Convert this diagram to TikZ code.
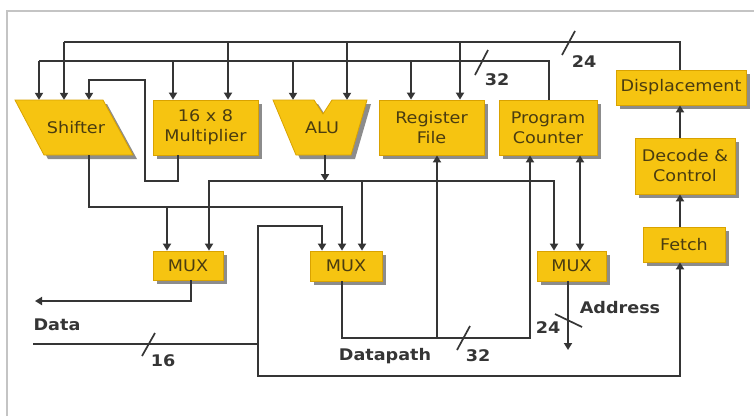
\documentclass[tikz,border=0pt]{standalone}
\usepackage{fontspec}
\setmainfont{DejaVu Sans}[FakeStretch=1.1]
\usetikzlibrary{arrows.meta,shadows}
\definecolor{boxfill}{HTML}{F6C411}
\definecolor{boxline}{HTML}{D9A200}
\definecolor{boxtext}{HTML}{4A3C10}
\definecolor{wirecol}{HTML}{353535}
\definecolor{framecol}{HTML}{C4C4C4}
\begin{document}
\begin{tikzpicture}[x=1pt,y=-1pt,
  unit/.style={fill=boxfill, draw=boxline, line width=0.8pt,
    drop shadow={shadow xshift=4pt,shadow yshift=-4pt,fill=black,opacity=0.45}},
  boxnode/.style={unit, rectangle, inner sep=0pt, text=boxtext, align=center,
    font=\fontsize{16}{20}\selectfont},
  shapetext/.style={rectangle, inner sep=0pt, text=boxtext, align=center,
    font=\fontsize{16}{20}\selectfont},
  wire/.style={draw=wirecol, line width=2pt},
  arr/.style={wire, -{Triangle[length=7pt,width=8pt]}},
  slashmark/.style={draw=wirecol, line width=1.7pt},
  lbl/.style={inner sep=0pt, text=wirecol, font=\bfseries\fontsize{16}{19}\selectfont}]
\useasboundingbox (0,0) rectangle (754,416);
\fill[white] (0,0) rectangle (754,416);
\draw[framecol, line width=1.6pt] (7,416) -- (7,11) -- (754,11);

% ---- unit shapes ----
\path[unit] (15,100) -- (103,100) -- (133,155) -- (44,155) -- cycle;
\node[shapetext, minimum width=118, minimum height=55] (shifter) at (76,127.5) {\raisebox{-2pt}{Shifter}};
\path[unit] (273,100) -- (314,100) -- (323,114) -- (332,100) -- (367,100) -- (351,155) -- (296,155) -- cycle;
\node[shapetext, minimum width=94, minimum height=55] (alu) at (322,127.5) {\raisebox{-3pt}{ALU}};

\node[boxnode, minimum width=105, minimum height=55] (mult) at (205.5,127.5) {16 x 8\\Multiplier};
\node[boxnode, minimum width=105, minimum height=55] (reg) at (431.5,127.5) {Register\\File};
\node[boxnode, minimum width=98, minimum height=55] (pc) at (548,127.5) {Program\\Counter};
\node[boxnode, minimum width=70, minimum height=29] (lmux) at (188,265.5) {MUX};
\node[boxnode, minimum width=72, minimum height=30] (mmux) at (346,266) {MUX};
\node[boxnode, minimum width=69, minimum height=30] (rmux) at (571.5,266) {MUX};
\node[boxnode, minimum width=130, minimum height=35] (disp) at (681,87.5) {Displacement};
\node[boxnode, minimum width=100, minimum height=56] (dec) at (685,166) {Decode \&\\Control};
\node[boxnode, minimum width=82, minimum height=35] (fetch) at (684,244.5) {Fetch};

% ---- bus A (from displacement) ----
\draw[wire] (680,0 |- disp.north) -- (680,42) -- (64,42);
\draw[arr] (64,42) -- (64,0 |- shifter.north);
\draw[arr] (228,42) -- (228,0 |- mult.north);
\draw[arr] (347,42) -- (347,0 |- alu.north);
\draw[arr] (460,42) -- (460,0 |- reg.north);
% ---- bus B (from program counter) ----
\draw[wire] (549,0 |- pc.north) -- (549,61) -- (39,61);
\draw[arr] (39,61) -- (39,0 |- shifter.north);
\draw[arr] (173,61) -- (173,0 |- mult.north);
\draw[arr] (293,61) -- (293,0 |- alu.north);
\draw[arr] (411,61) -- (411,0 |- reg.north);

% ---- multiplier to shifter ----
\draw[arr] (178,0 |- mult.south) -- (178,181) -- (145,181) -- (145,80) -- (89,80) -- (89,0 |- shifter.north);
% ---- shifter output ----
\draw[arr] (89,0 |- shifter.south) -- (89,207) -- (342,207) -- (342,0 |- mmux.north);
\draw[arr] (167,207) -- (167,0 |- lmux.north);
% ---- ALU output ----
\draw[arr] (325,0 |- alu.south) -- (325,181);
\draw[arr] (325,181) -- (209,181) -- (209,0 |- lmux.north);
\draw[arr] (325,181) -- (554,181) -- (554,0 |- rmux.north);
\draw[arr] (362,181) -- (362,0 |- mmux.north);
% ---- left MUX output: Data ----
\draw[arr] (191,0 |- lmux.south) -- (191,301) -- (35,301);
% ---- Data input ----
\draw[wire] (33,344) -- (258,344);
\draw[arr] (258,344) -- (258,226) -- (322,226) -- (322,0 |- mmux.north);
\draw[arr] (258,344) -- (258,376) -- (680,376) -- (680,0 |- fetch.south);
% ---- Datapath ----
\draw[arr] (342,0 |- mmux.south) -- (342,338) -- (530,338) -- (530,0 |- pc.south);
\draw[arr] (437,338) -- (437,0 |- reg.south);
% ---- PC <-> right MUX ----
\draw[wire, {Triangle[length=7pt,width=8pt]}-{Triangle[length=7pt,width=8pt]}] (580,0 |- pc.south) -- (580,0 |- rmux.north);
% ---- Address ----
\draw[arr] (568,0 |- rmux.south) -- (568,350);
% ---- control column ----
\draw[arr] (680,0 |- fetch.north) -- (680,0 |- dec.south);
\draw[arr] (680,0 |- dec.north) -- (680,0 |- disp.south);

% ---- bus width marks ----
\draw[slashmark] (575,31) -- (562,55);
\node[lbl] (w24a) at (584,62) {24};
\draw[slashmark] (488,50) -- (475,75);
\node[lbl] (w32a) at (497,80) {32};
\draw[slashmark] (155,333) -- (142,356);
\node[lbl] (w16) at (163,361) {16};
\draw[slashmark] (470,326) -- (457,350);
\node[lbl] (w32b) at (478,356) {32};
\draw[slashmark] (555,314) -- (582,327);
\node[lbl] (w24b) at (548,328) {24};

% ---- labels ----
\node[lbl] (ldata) at (57,325) {Data};
\node[lbl] (laddr) at (620,308) {Address};
\node[lbl] (ldp) at (385,356) {Datapath};
\end{tikzpicture}
\end{document}
